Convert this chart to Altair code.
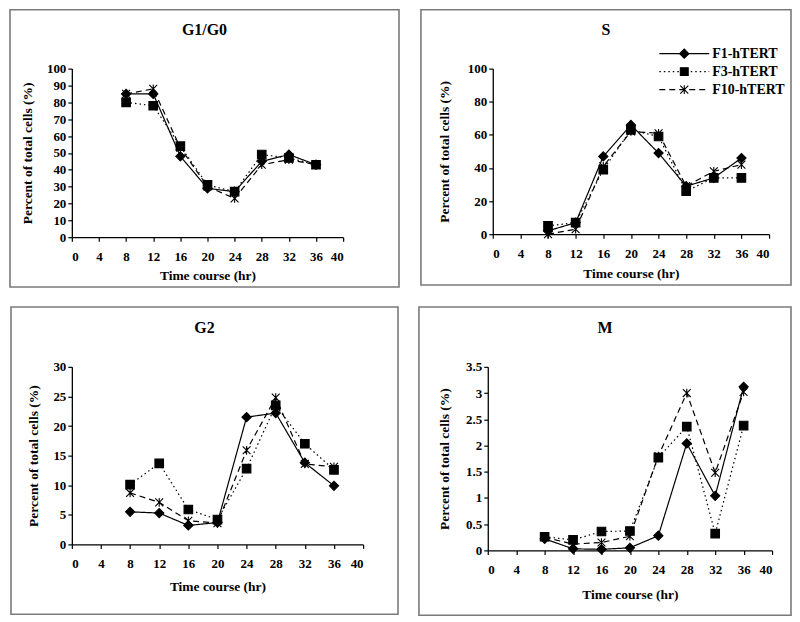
import altair as alt
import pandas as pd

# ---------------- data ----------------
hours = [8, 12, 16, 20, 24, 28, 32, 36]
series_names = ["F1-hTERT", "F3-hTERT", "F10-hTERT"]

g1_f1 = [85, 85, 48, 29, 27, 45, 49, 43]
g1_f3 = [80, 78, 54, 31, 27, 49, 47, 43]
g1_f10 = [85, 88, 53, 30, 23, 43, 46, 43]

s_f1 = [2, 7, 47, 66, 49, 29, 34, 46]
s_f3 = [5, 7, 39, 63, 59, 26, 34, 34]
s_f10 = [0, 3, 41, 62, 61, 29, 38, 42]

g2_f1 = [5.5, 5.3, 3.2, 3.7, 21.5, 22.2, 13.8, 9.9]
g2_f3 = [10.1, 13.7, 5.9, 4.2, 12.8, 23.5, 17.0, 12.6]
g2_f10 = [8.7, 7.1, 4.0, 3.6, 15.9, 24.8, 13.6, 13.1]

m_f1 = [0.22, 0.03, 0.02, 0.05, 0.28, 2.04, 1.04, 3.12]
m_f3 = [0.26, 0.20, 0.36, 0.37, 1.77, 2.36, 0.32, 2.38]
m_f10 = [0.25, 0.12, 0.15, 0.27, 1.80, 3.00, 1.48, 3.02]

x_ticks = [0, 4, 8, 12, 16, 20, 24, 28, 32, 36, 40]

# ---------------- styles ----------------
FONT = "Liberation Serif"
ASTER = "M-1,-1L1,1M-1,1L1,-1M0,-1.1L0,1.1"
shape_range = ["diamond", "square", ASTER]
size_range = [85, 62, 65]
dash_range = [[1, 0], [1.5, 3], [6, 4]]


def panel(title, f1, f3, f10, ymax, ystep, w, h, box, xpad, ypad, yfmt, legend=False):
    rows = []
    for name, vals in zip(series_names, [f1, f3, f10]):
        for hr, v in zip(hours, vals):
            rows.append({"hour": hr, "value": v, "series": name})
    df = pd.DataFrame(rows)

    yvals = []
    v = 0.0
    while v <= ymax + 1e-9:
        yvals.append(round(v, 4))
        v += ystep

    x = alt.X("hour:Q",
              scale=alt.Scale(domain=[0, 40], nice=False, zero=False),
              axis=alt.Axis(values=x_ticks, title="Time course (hr)", titlePadding=xpad,
                            labelPadding=9, tickSize=4))
    y = alt.Y("value:Q",
              scale=alt.Scale(domain=[0, ymax], nice=False),
              axis=alt.Axis(values=yvals, title="Percent of total cells (%)", format=yfmt,
                            titlePadding=ypad, labelPadding=2, tickSize=4))

    base = alt.Chart(df)
    lines = base.mark_line(color="black", strokeWidth=1.2).encode(
        x=x, y=y,
        strokeDash=alt.StrokeDash("series:N", scale=alt.Scale(domain=series_names, range=dash_range), legend=None),
        detail="series:N",
    )
    pts = base.mark_point(fill="black", stroke="black", strokeWidth=1.1, opacity=1).encode(
        x=x, y=y,
        shape=alt.Shape("series:N", scale=alt.Scale(domain=series_names, range=shape_range), legend=None),
        size=alt.Size("series:N", scale=alt.Scale(domain=series_names, range=size_range), legend=None),
    )

    left, right, top, bottom = box
    frame = alt.Chart(pd.DataFrame({"t": [title]})).mark_rect(
        fill="white", fillOpacity=0, stroke="#7a7a7a", strokeWidth=1.6
    ).encode(
        x=alt.value(-left), x2=alt.value(w + right),
        y=alt.value(-top), y2=alt.value(h + bottom),
    )
    ttl = alt.Chart(pd.DataFrame({"t": [title]})).mark_text(
        font=FONT, fontSize=16, fontWeight="bold", color="black", baseline="middle", align="center"
    ).encode(
        text="t:N",
        x=alt.value((w + right - left) / 2),
        y=alt.value(-39),
    )

    layers = [frame, lines, pts, ttl]

    if legend:
        ys = [-15, 3, 21]
        for i, name in enumerate(series_names):
            ld = alt.Chart(pd.DataFrame({"series": [name]}))
            layers.append(ld.mark_rule(color="black", strokeWidth=1.2, strokeDash=dash_range[i]).encode(
                x=alt.value(167), x2=alt.value(217), y=alt.value(ys[i])))
            layers.append(ld.mark_point(fill="black", stroke="black", strokeWidth=1.1, opacity=1,
                                        shape=shape_range[i], size=size_range[i]).encode(
                x=alt.value(192), y=alt.value(ys[i])))
            layers.append(ld.mark_text(font=FONT, fontSize=14, fontWeight="bold", color="black",
                                       align="left", baseline="middle").encode(
                text="series:N", x=alt.value(220), y=alt.value(ys[i])))

    return alt.layer(*layers).properties(width=w, height=h)


tl = panel("G1/G0", g1_f1, g1_f3, g1_f10, 100, 10, 272, 169, (62, 56, 59, 50), 5, 12, "d")
tr = panel("S", s_f1, s_f3, s_f10, 100, 20, 277, 166, (72, 22, 59, 51), 6, 16, "d", legend=True)
bl = panel("G2", g2_f1, g2_f3, g2_f10, 30, 5, 292, 178, (61, 35, 60, 70), 9, 12, "d")
br = panel("M", m_f1, m_f3, m_f10, 3.5, 0.5, 285, 184, (69, 19, 60, 65), 11, 14, ".1~f")

chart = alt.vconcat(
    alt.hconcat(tl, tr, spacing=20),
    alt.hconcat(bl, br, spacing=19),
    spacing=18,
).properties(
    padding={"left": 1, "top": 0, "right": 0, "bottom": 0}
).configure_view(stroke=None).configure_axis(
    grid=False,
    domainColor="black", domainWidth=1.3,
    tickColor="black", tickWidth=1.2,
    labelColor="black", labelFont=FONT, labelFontSize=13, labelFontWeight="bold",
    titleColor="black", titleFont=FONT, titleFontSize=13.5, titleFontWeight="bold",
).configure_concat(spacing=18)

chart.save("out.html", embed_options={"renderer": "svg", "actions": False})
